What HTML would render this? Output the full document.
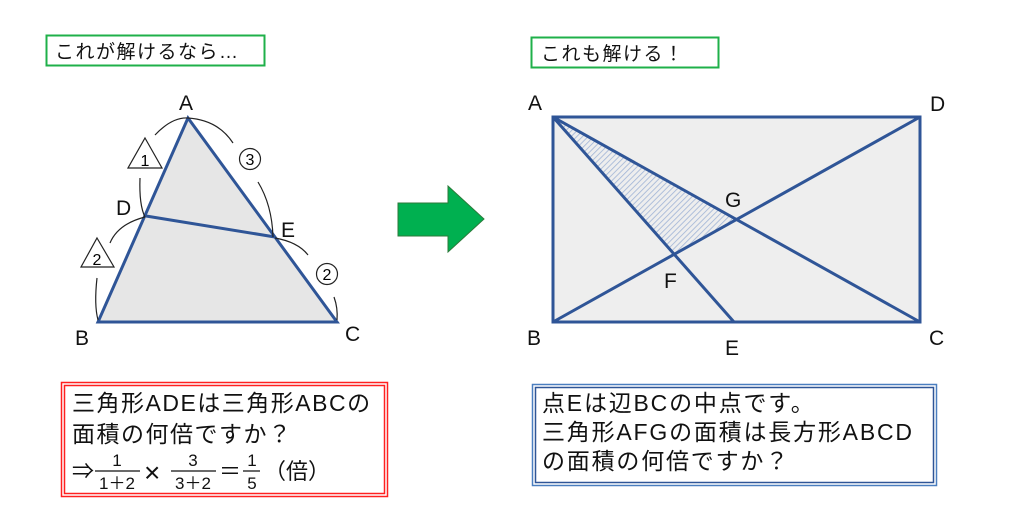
<!DOCTYPE html>
<html><head><meta charset="utf-8"><style>
html,body{margin:0;padding:0;background:#fff;}
body{width:1019px;height:530px;position:relative;overflow:hidden;font-family:"Liberation Sans","Noto Sans CJK JP",sans-serif;}
.t{position:absolute;white-space:nowrap;color:#111;}
</style></head><body>
<svg width="1019" height="530" style="position:absolute;left:0;top:0" xmlns="http://www.w3.org/2000/svg">
<defs>
<pattern id="h" patternUnits="userSpaceOnUse" width="4" height="4" patternTransform="rotate(45)">
<rect width="4" height="4" fill="#eeeeee"/>
<line x1="0" y1="0" x2="0" y2="4" stroke="#9fb3d6" stroke-width="1.6"/>
</pattern>
</defs>
<rect x="46.5" y="35.5" width="218" height="30" fill="#fff" stroke="#1fb04a" stroke-width="2"/>
<rect x="531.5" y="37.5" width="187" height="30" fill="#fff" stroke="#1fb04a" stroke-width="2"/>
<polygon points="188,118 98,322 337,322" fill="#e6e6e6" stroke="#2f5597" stroke-width="3" stroke-linejoin="miter"/>
<line x1="146" y1="216" x2="275" y2="237" stroke="#2f5597" stroke-width="3"/>
<g fill="none" stroke="#222" stroke-width="1.2">
<path d="M155,135 Q172,117 188,118 Q218,120 233,143"/>
<path d="M140,178 Q139,205 145,217"/>
<path d="M258,182 Q272,205 273,237"/>
<path d="M145,217 Q118,224 110,243"/>
<path d="M275,238 Q298,242 308,255"/>
<path d="M97,278 Q94,305 98,320"/>
<path d="M334,297 Q338,308 337,320"/>
</g>
<polygon points="145,138 162,168 128,168" fill="#fff" stroke="#222" stroke-width="1.2"/>
<polygon points="97,238 114,267 81,267" fill="#fff" stroke="#222" stroke-width="1.2"/>
<text x="145" y="166" font-size="16" text-anchor="middle" font-family="Liberation Sans,sans-serif">1</text>
<text x="97" y="265" font-size="16" text-anchor="middle" font-family="Liberation Sans,sans-serif">2</text>
<circle cx="250" cy="159" r="10.5" fill="#fff" stroke="#222" stroke-width="1.2"/>
<circle cx="327" cy="274" r="10.5" fill="#fff" stroke="#222" stroke-width="1.2"/>
<text x="250" y="165" font-size="16" text-anchor="middle" font-family="Liberation Sans,sans-serif">3</text>
<text x="327" y="280" font-size="16" text-anchor="middle" font-family="Liberation Sans,sans-serif">2</text>
<g font-size="21" font-family="Liberation Sans,sans-serif" fill="#111">
<text x="179" y="110">A</text><text x="116" y="215">D</text><text x="281" y="237">E</text>
<text x="75" y="345">B</text><text x="345" y="341">C</text>
</g>
<polygon points="398,203 448,203 448,186 484,219 448,252 448,236 398,236" fill="#00b050" stroke="#2b7a3a" stroke-width="1"/>
<rect x="553" y="117" width="367" height="205" fill="#eeeeee" stroke="#2f5597" stroke-width="3"/>
<polygon points="553,117 737,219 674,254" fill="url(#h)"/>
<g stroke="#2f5597" stroke-width="3">
<line x1="553" y1="117" x2="920" y2="322"/>
<line x1="553" y1="322" x2="920" y2="117"/>
<line x1="553" y1="117" x2="734" y2="322"/>
</g>
<g font-size="21" font-family="Liberation Sans,sans-serif" fill="#111">
<text x="528" y="110">A</text><text x="930" y="111">D</text><text x="527" y="345">B</text>
<text x="929" y="345">C</text><text x="725" y="355">E</text><text x="664" y="288">F</text><text x="725" y="207">G</text>
</g>
<rect x="61.5" y="382.5" width="326" height="114" fill="#fff" stroke="#ff2020" stroke-width="1.5"/>
<rect x="64.5" y="385.5" width="320" height="108" fill="none" stroke="#ff2020" stroke-width="1.5"/>
<rect x="532.5" y="384.5" width="404" height="101" fill="#fff" stroke="#4a7ebf" stroke-width="1.5"/>
<rect x="535.5" y="387.5" width="398" height="95" fill="none" stroke="#2f5597" stroke-width="1.5"/>
<g stroke="#111" stroke-width="1.2">
<line x1="95" y1="471" x2="140" y2="471"/>
<line x1="171" y1="471" x2="216" y2="471"/>
<line x1="243" y1="471" x2="260" y2="471"/>
</g>
<g font-family="Liberation Sans,'Noto Sans CJK JP',sans-serif" fill="#111" text-anchor="middle" font-size="17">
<text x="117" y="466">1</text><text x="117" y="489">1＋2</text>
<text x="193" y="466">3</text><text x="193" y="489">3＋2</text>
<text x="252" y="466">1</text><text x="252" y="489">5</text>
</g>
<g font-family="Liberation Sans,'Noto Sans CJK JP',sans-serif" fill="#111">
<text x="72" y="479" font-size="22">⇒</text>
<text x="144" y="482" font-size="28">×</text>
<text x="219" y="479" font-size="22">＝</text>
<text x="264" y="479" font-size="22">（倍）</text>
</g>
</svg>
<div class="t" style="left:55px;top:37px;font-size:19px;letter-spacing:1.5px;">これが解けるなら…</div>
<div class="t" style="left:541px;top:39px;font-size:19px;letter-spacing:1.5px;">これも解ける！</div>
<div class="t" style="left:72px;top:388px;font-size:23px;line-height:31px;letter-spacing:1.5px;">三角形ADEは三角形ABCの<br>面積の何倍ですか？</div>
<div class="t" style="left:542px;top:389px;font-size:23px;line-height:29px;letter-spacing:1.8px;">点Eは辺BCの中点です。<br>三角形AFGの面積は長方形ABCD<br>の面積の何倍ですか？</div>
</body></html>
